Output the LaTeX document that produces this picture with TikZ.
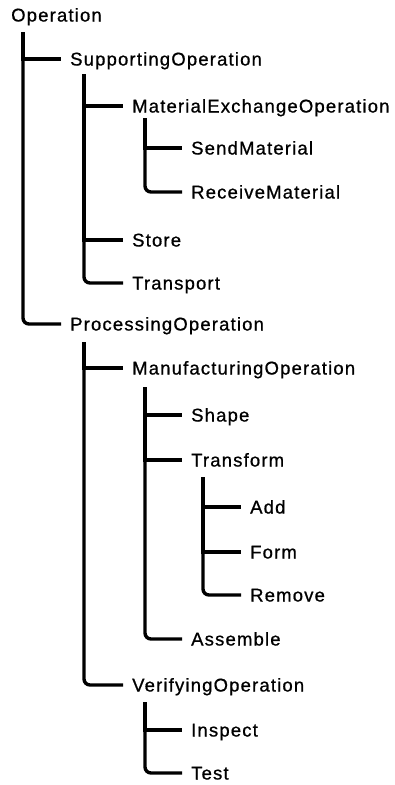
\documentclass[tikz,border=0pt]{standalone}
\usepackage{fontspec}
\setmainfont{Liberation Sans}[LetterSpace=6.3,FakeBold=0.8]
\usetikzlibrary{calc}
\begin{document}
\begin{tikzpicture}[x=1pt,y=-1pt,
  item/.style={anchor=west,inner xsep=9pt,inner ysep=1pt,text height=13pt,text depth=0pt,font=\fontsize{18.5}{22}\selectfont},
  conn/.style={line width=3.4pt,line join=miter},
  lastconn/.style={conn,rounded corners=6pt}]
\useasboundingbox (0,0) rectangle (395,785);
% nodes (x = text start - 9)
\node[item] (op)     at (2,15)   {Operation};
\node[item] (sup)    at (61,59)  {SupportingOperation};
\node[item] (mat)    at (123,106) {MaterialExchangeOperation};
\node[item] (send)   at (182,148) {SendMaterial};
\node[item] (recv)   at (182,192) {ReceiveMaterial};
\node[item] (store)  at (123,240) {Store};
\node[item] (trans)  at (123,283) {Transport};
\node[item] (proc)   at (61,324)  {ProcessingOperation};
\node[item] (manu)   at (123,368) {ManufacturingOperation};
\node[item] (shape)  at (182,415) {Shape};
\node[item] (tform)  at (182,460) {Transform};
\node[item] (add)    at (241,507) {Add};
\node[item] (form)   at (241,552) {Form};
\node[item] (remove) at (241,595) {Remove};
\node[item] (assem)  at (182,639) {Assemble};
\node[item] (verif)  at (123,685) {VerifyingOperation};
\node[item] (insp)   at (182,730) {Inspect};
\node[item] (test)   at (182,773) {Test};
% trunk tops
\coordinate (opT)    at ($(op.west)+(21,17)$);
\coordinate (supT)   at ($(sup.west)+(23,15)$);
\coordinate (matT)   at ($(mat.west)+(22,12)$);
\coordinate (procT)  at ($(proc.west)+(23,18)$);
\coordinate (manuT)  at ($(manu.west)+(22,19)$);
\coordinate (tformT) at ($(tform.west)+(21,17)$);
\coordinate (verifT) at ($(verif.west)+(22,17)$);
% connectors
\draw[conn] (opT) |- (sup.west);
\draw[lastconn] (opT) |- (proc.west);
\draw[conn] (supT) |- (mat.west);
\draw[conn] (supT) |- (store.west);
\draw[lastconn] (supT) |- (trans.west);
\draw[conn] (matT) |- (send.west);
\draw[lastconn] (matT) |- (recv.west);
\draw[conn] (procT) |- (manu.west);
\draw[lastconn] (procT) |- (verif.west);
\draw[conn] (manuT) |- (shape.west);
\draw[conn] (manuT) |- (tform.west);
\draw[lastconn] (manuT) |- (assem.west);
\draw[conn] (tformT) |- (add.west);
\draw[conn] (tformT) |- (form.west);
\draw[lastconn] (tformT) |- (remove.west);
\draw[conn] (verifT) |- (insp.west);
\draw[lastconn] (verifT) |- (test.west);
\end{tikzpicture}
\end{document}
